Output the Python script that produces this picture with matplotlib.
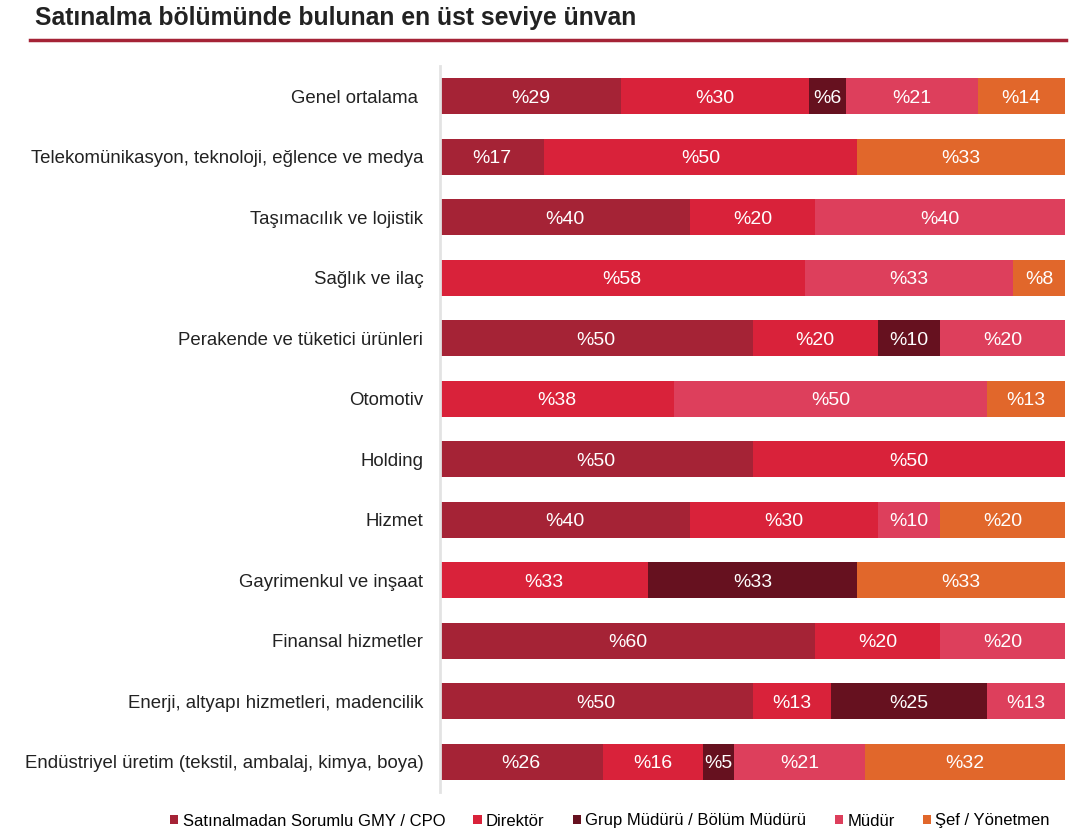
import numpy as np
import matplotlib.pyplot as plt

plt.rcParams['font.family'] = ['Liberation Sans', 'DejaVu Sans']

categories = ["Genel ortalama ",
              "Telekomünikasyon, teknoloji, eğlence ve medya",
              "Taşımacılık ve lojistik",
              "Sağlık ve ilaç",
              "Perakende ve tüketici ürünleri",
              "Otomotiv",
              "Holding",
              "Hizmet",
              "Gayrimenkul ve inşaat",
              "Finansal hizmetler",
              "Enerji, altyapı hizmetleri, madencilik",
              "Endüstriyel üretim (tekstil, ambalaj, kimya, boya)"]

series = ["Satınalmadan Sorumlu GMY / CPO", "Direktör",
          "Grup Müdürü / Bölüm Müdürü", "Müdür", "Şef / Yönetmen"]

gmy = [29, 16.67, 40, 0, 50, 0, 50, 40, 0, 60, 50, 26]
direktor = [30, 50, 20, 58.33, 20, 37.5, 50, 30, 33.33, 20, 12.5, 16]
grup = [6, 0, 0, 0, 10, 0, 0, 0, 33.33, 0, 25, 5]
mudur = [21, 0, 40, 33.33, 20, 50, 0, 10, 0, 20, 12.5, 21]
sef = [14, 33.33, 0, 8.33, 0, 12.5, 0, 20, 33.33, 0, 0, 32]

colors = ["#A52336", "#D9223A", "#66111F", "#DD3F5C", "#E1672B"]

fig = plt.figure(figsize=(10.76, 8.39), dpi=100)
ax = fig.add_axes([440/1076, 47/839, 625/1076, 726/839])

y = np.arange(len(categories))
left = np.zeros(len(categories))
for name, vals, c in zip(series, [gmy, direktor, grup, mudur, sef], colors):
    vals = np.array(vals, dtype=float)
    ax.barh(y, vals, left=left, height=0.6, color=c, label=name)
    for yi, l, v in zip(y, left, vals):
        if v > 0:
            ax.text(l + v/2, yi + 0.03, "%" + str(int(v + 0.5)), ha='center', va='center',
                    color='white', fontsize=14)
    left += vals

ax.set_xlim(0, 100)
ax.set_ylim(len(categories) - 0.5, -0.5)
ax.set_yticks(y)
ax.set_yticklabels(categories, fontsize=13.4, color='#222222')
ax.tick_params(axis='y', length=0, pad=12)
ax.set_xticks([])
for s in ['top', 'right', 'bottom']:
    ax.spines[s].set_visible(False)
ax.spines['left'].set_color('#e3e3e3')
ax.spines['left'].set_linewidth(2)

fig.text(35/1076, 1 - 18/839, "Satınalma bölümünde bulunan en üst seviye ünvan",
         fontsize=17.8, fontweight='bold', color='#222222', va='center', ha='left')
fig.add_artist(plt.Line2D([30/1076, 1066/1076], [1 - 40/839, 1 - 40/839],
                          color='#A52336', linewidth=2.5))

fig.legend(loc='center', bbox_to_anchor=(610/1076, 1 - 821/839), ncol=5,
           frameon=False, fontsize=12, handlelength=0.5, handleheight=0.5,
           handletextpad=0.25, columnspacing=1.7, borderaxespad=0)

fig.savefig("out.png", dpi=100)
